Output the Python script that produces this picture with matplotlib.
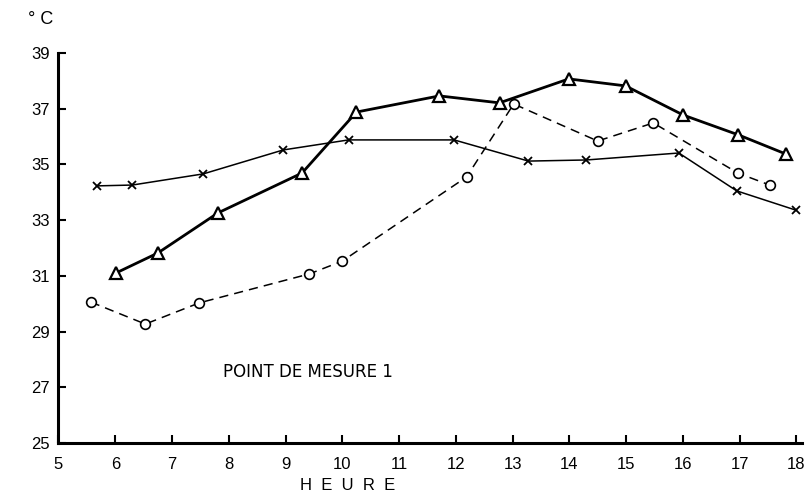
import matplotlib
matplotlib.use("Agg")
import matplotlib.pyplot as plt

plt.rcParams['font.family'] = ['Liberation Sans', 'DejaVu Sans']

# Series: crosses (thin solid)
hours_x = [5.68, 6.30, 7.55, 8.96, 10.11, 11.97, 13.28, 14.30, 15.93, 16.95, 17.99]
temp_x = [34.23, 34.26, 34.66, 35.52, 35.88, 35.88, 35.12, 35.16, 35.41, 34.05, 33.36]

# Series: triangles (thick solid)
hours_t = [6.01, 6.75, 7.81, 9.29, 10.25, 11.71, 12.77, 13.99, 14.99, 16.01, 16.98, 17.82]
temp_t = [31.10, 31.82, 33.26, 34.69, 36.88, 37.46, 37.21, 38.07, 37.82, 36.77, 36.06, 35.37]

# Series: circles (dashed)
hours_o = [5.57, 6.53, 7.48, 9.42, 10.00, 12.19, 13.02, 14.50, 15.48, 16.97, 17.53]
temp_o = [30.06, 29.27, 30.03, 31.07, 31.53, 34.55, 37.17, 35.84, 36.49, 34.69, 34.26]

xticks = list(range(5, 19))
yticks = [25, 27, 29, 31, 33, 35, 37, 39]

fig = plt.figure(figsize=(8.08, 4.93), dpi=100)
ax = fig.add_axes([0.0724, 0.1014, 0.9926 - 0.0724, 0.8925 - 0.1014])

ax.plot(hours_x, temp_x, color='black', lw=1.1, marker='x', ms=6, mew=1.3,
        zorder=3)
ax.plot(hours_o, temp_o, color='black', lw=1.1, ls=(0, (6, 4)), marker='o', ms=7,
        mfc='white', mec='black', mew=1.2, zorder=4)
ax.plot(hours_t, temp_t, color='black', lw=2.0, marker='^', ms=8,
        mfc='white', mec='black', mew=1.6, zorder=5)

ax.set_xlim(5, 18.1)
ax.set_ylim(25, 39)
ax.set_xticks(xticks)
ax.set_yticks(yticks)
ax.set_xticklabels([str(v) for v in xticks], fontsize=12)
ax.set_yticklabels([str(v) for v in yticks], fontsize=12)
ax.tick_params(axis='both', direction='in', length=6, width=1.5, colors='black')
ax.tick_params(axis='x', pad=10)
ax.tick_params(axis='y', pad=6)

for s in ['top', 'right']:
    ax.spines[s].set_visible(False)
for s in ['left', 'bottom']:
    ax.spines[s].set_linewidth(2.2)

ax.text(7.9, 27.55, 'POINT DE MESURE 1', fontsize=12, va='center', ha='left',
        family=['DejaVu Sans'])
fig.text(0.035, 0.96, '° C', fontsize=13, va='center', ha='left')
fig.text(0.43, 0.016, 'H  E  U  R  E', fontsize=12, va='center', ha='center')

fig.savefig('out.png', dpi=100, facecolor='white')
